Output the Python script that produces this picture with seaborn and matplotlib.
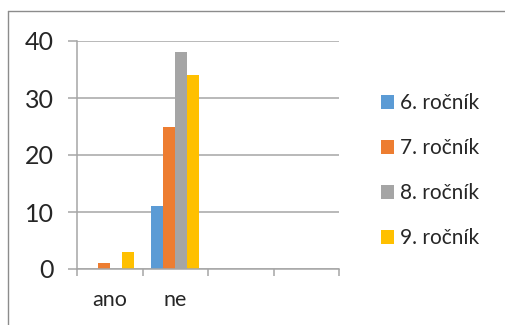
import numpy as np
import pandas as pd
import seaborn as sn
from matplotlib import pyplot as plt
from matplotlib.lines import Line2D

# chart data
categories = ["ano", "ne", "", " "]
series_names = ["6. ročník", "7. ročník", "8. ročník", "9. ročník"]
ano_values = [0, 1, 0, 3]
ne_values = [11, 25, 38, 34]
colors = ["#5B9BD5", "#ED7D31", "#A5A5A5", "#FFC000"]
y_ticks = [0, 10, 20, 30, 40]

sn.set_theme(style="white")
plt.rcParams['font.family'] = ['Lato', 'DejaVu Sans']

rows = []
for name, a, n in zip(series_names, ano_values, ne_values):
    rows.append({"kategorie": categories[0], "rocnik": name, "pocet": a})
    rows.append({"kategorie": categories[1], "rocnik": name, "pocet": n})
df = pd.DataFrame(rows)

fig = plt.figure(figsize=(5.05, 3.25), dpi=100)
ax = fig.add_axes([77 / 505, 56 / 325, 262 / 505, 228 / 325])

sn.barplot(data=df, x="kategorie", y="pocet", hue="rocnik", order=categories,
           hue_order=series_names, palette=colors, width=0.73, linewidth=0,
           saturation=1, ax=ax)

grid_color = "#A6A6A6"
ax.set_xlim(-0.5, len(categories) - 0.5)
ax.set_ylim(0, 40)
ax.set_yticks(y_ticks)
ax.yaxis.grid(True, color=grid_color, linewidth=1.1)
ax.set_axisbelow(True)
for side in ["top", "right"]:
    ax.spines[side].set_visible(False)
ax.spines["left"].set_color(grid_color)
ax.spines["bottom"].set_color(grid_color)
ax.spines["left"].set_linewidth(1.1)
ax.spines["bottom"].set_linewidth(1.1)

ax.set_xlabel("")
ax.set_ylabel("")
ax.tick_params(axis="y", length=6.5, width=1.1, color=grid_color, pad=10, labelsize=18, left=True)
ax.set_xticks(np.arange(len(categories)))
ax.set_xticklabels(categories)
ax.set_xticks(np.arange(-0.5, len(categories)), minor=True)
ax.tick_params(axis="x", which="major", length=0, pad=15, labelsize=15.5)
ax.tick_params(axis="x", which="minor", length=5, width=1.1, color=grid_color, bottom=True)

ax.legend(loc="center left", bbox_to_anchor=(1.12, 0.43), frameon=False, fontsize=15,
          handlelength=0.62, handleheight=0.62, handletextpad=0.3, labelspacing=1.2,
          borderpad=0)

# chart frame (top and left edges only are visible)
fig.add_artist(Line2D([8 / 505, 1], [1 - 11 / 325, 1 - 11 / 325], color="#8C8C8C", linewidth=1.0))
fig.add_artist(Line2D([8 / 505, 8 / 505], [0, 1 - 11 / 325], color="#8C8C8C", linewidth=1.0))

plt.savefig("out.png", dpi=100)
